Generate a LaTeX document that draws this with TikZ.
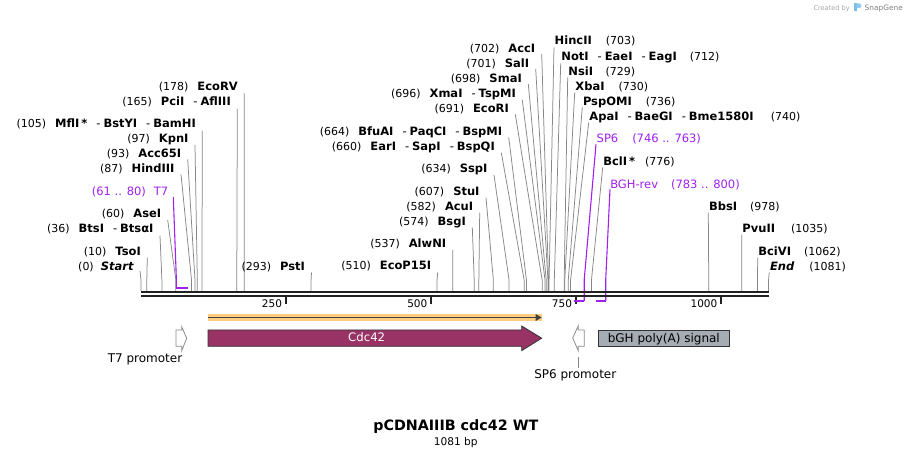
\documentclass[tikz,border=0pt]{standalone}
\usepackage{fontspec}
\setmainfont{DejaVu Sans}[ItalicFont={DejaVu Sans Oblique},BoldFont={DejaVu Sans Bold},BoldItalicFont={DejaVu Sans Bold Oblique}]
\usetikzlibrary{arrows.meta}
\definecolor{leadgray}{RGB}{135,135,135}
\definecolor{primerpurple}{RGB}{160,32,240}
\definecolor{cdccol}{RGB}{153,51,102}
\definecolor{polyAcol}{RGB}{166,172,179}
\definecolor{orfglow}{RGB}{253,205,128}
\definecolor{bbcol}{RGB}{34,34,34}
\definecolor{promogray}{RGB}{140,140,140}
\definecolor{logoblue}{RGB}{120,190,235}

\newcommand{\numlab}[1]{{\fontsize{11}{13}\selectfont #1}}
\newcommand{\enzlab}[1]{{\fontsize{11.5}{13}\selectfont\bfseries #1}}
\newcommand{\sepd}{\hspace{9pt}{\mdseries -}\hspace{3pt}}
% left label: id, bp, line x, line top y, baseline y, content
\newcommand{\lsite}[6]{%
  \node[lab, anchor=base east] (#1) at ({#3-6.5},{#5}) {#6};
  \coordinate (#1-top) at (#3,#4);
  \coordinate (#1-bend) at ({141+#2*0.5805},280);
  \coordinate (#1-end) at ({141+#2*0.5805},291);
  \draw[leader] (#1-top) -- (#1-bend) -- (#1-end);
}
\newcommand{\rsite}[6]{%
  \node[lab, anchor=base west] (#1) at ({#3+0.7},{#5}) {#6};
  \coordinate (#1-top) at (#3,#4);
  \coordinate (#1-bend) at ({141+#2*0.5805},280);
  \coordinate (#1-end) at ({141+#2*0.5805},291);
  \draw[leader] (#1-top) -- (#1-bend) -- (#1-end);
}

\begin{document}
\begin{tikzpicture}[x=1pt,y=-1pt,
  lab/.style={inner sep=0pt, outer sep=0pt, text=black},
  plab/.style={inner sep=0pt, outer sep=0pt, text=primerpurple, font=\fontsize{11.5}{13}\selectfont},
  leader/.style={draw=leadgray, line width=0.75pt},
  primerline/.style={draw=primerpurple, line width=1.1pt},
  primerbar/.style={draw=primerpurple, line width=2.2pt},
  backbone/.style={draw=bbcol, line width=2.4pt},
  tickmark/.style={draw=bbcol, line width=1.6pt},
  ticklab/.style={inner sep=0pt, font=\fontsize{10.5}{12}\selectfont, anchor=base east},
  promo/.style={draw=promogray, fill=white, line width=0.8pt},
  featlab/.style={inner sep=0pt, font=\fontsize{12}{14}\selectfont}
]
\useasboundingbox (0,0) rectangle (911,457);
\fill[white] (0,0) rectangle (911,457);

% ---------- left-side sites ----------
\lsite{start}{0}{140}{271}{270.3}{\numlab{(0)}\hspace{7pt}\enzlab{\itshape Start}}
\lsite{tso}{10}{147.3}{257.7}{255.7}{\numlab{(10)}\hspace{9pt}\enzlab{TsoI}}
\lsite{bts}{36}{160}{235.7}{232.7}{\numlab{(36)}\hspace{9pt}\enzlab{BtsI\sepd BtsαI}}
\lsite{ase}{60}{167.7}{220}{218}{\numlab{(60)}\hspace{9pt}\enzlab{AseI}}
\lsite{hind}{87}{181}{174.3}{172.3}{\numlab{(87)}\hspace{9pt}\enzlab{HindIII}}
\lsite{accsf}{93}{187.7}{159.3}{157.3}{\numlab{(93)}\hspace{9pt}\enzlab{Acc65I}}
\lsite{kpn}{97}{195}{145}{142.7}{\numlab{(97)}\hspace{9pt}\enzlab{KpnI}}
\lsite{mfl}{105}{202.3}{131}{127.7}{\numlab{(105)}\hspace{9pt}\enzlab{MflI\,*\sepd BstYI\sepd BamHI}}
\lsite{pci}{165}{237.3}{109}{106}{\numlab{(165)}\hspace{9pt}\enzlab{PciI\sepd AflIII}}
\lsite{ecorv}{178}{244.3}{93.3}{90.7}{\numlab{(178)}\hspace{9pt}\enzlab{EcoRV}}
\lsite{pst}{293}{311.5}{272.5}{270.3}{\numlab{(293)}\hspace{9pt}\enzlab{PstI}}
\lsite{ecop}{510}{437.7}{272.3}{270}{\numlab{(510)}\hspace{9pt}\enzlab{EcoP15I}}
\lsite{alwn}{537}{452.7}{250}{247.7}{\numlab{(537)}\hspace{9pt}\enzlab{AlwNI}}
\lsite{bsg}{574}{472.3}{227.3}{225.7}{\numlab{(574)}\hspace{9pt}\enzlab{BsgI}}
\lsite{acu}{582}{479.7}{212.7}{210.7}{\numlab{(582)}\hspace{9pt}\enzlab{AcuI}}
\lsite{stu}{607}{486}{197.7}{195.7}{\numlab{(607)}\hspace{9pt}\enzlab{StuI}}
\lsite{ssp}{634}{494}{175}{172.7}{\numlab{(634)}\hspace{9pt}\enzlab{SspI}}
\lsite{ear}{660}{501.3}{152.7}{150.7}{\numlab{(660)}\hspace{9pt}\enzlab{EarI\sepd SapI\sepd BspQI}}
\lsite{bfua}{664}{508.7}{137.3}{135.7}{\numlab{(664)}\hspace{9pt}\enzlab{BfuAI\sepd PaqCI\sepd BspMI}}
\lsite{ecori}{691}{515.3}{114.3}{112.7}{\numlab{(691)}\hspace{9pt}\enzlab{EcoRI}}
\lsite{xma}{696}{522.3}{100}{97.7}{\numlab{(696)}\hspace{9pt}\enzlab{XmaI\sepd TspMI}}
\lsite{sma}{698}{528.3}{84}{82.7}{\numlab{(698)}\hspace{9pt}\enzlab{SmaI}}
\lsite{sal}{701}{535.7}{69}{67.7}{\numlab{(701)}\hspace{9pt}\enzlab{SalI}}
\lsite{acc}{702}{541.7}{54}{52.7}{\numlab{(702)}\hspace{9pt}\enzlab{AccI}}

% ---------- right-side sites ----------
\rsite{hinc}{703}{554}{47.3}{45}{\enzlab{HincII}\hspace{14pt}\numlab{(703)}}
\rsite{noti}{712}{560.7}{63.3}{60.7}{\enzlab{NotI\sepd EaeI\sepd EagI}\hspace{13pt}\numlab{(712)}}
\rsite{nsi}{729}{567.7}{77.3}{75.7}{\enzlab{NsiI}\hspace{12.5pt}\numlab{(729)}}
\rsite{xba}{730}{574.7}{92.3}{90.7}{\enzlab{XbaI}\hspace{14pt}\numlab{(730)}}
\rsite{psp}{736}{582.3}{107.3}{105.3}{\enzlab{PspOMI}\hspace{14pt}\numlab{(736)}}
\rsite{apa}{740}{588.7}{122.7}{120.3}{\enzlab{ApaI\sepd BaeGI\sepd Bme1580I}\hspace{17pt}\numlab{(740)}}
\rsite{bcl}{776}{602.7}{167.3}{166}{\enzlab{BclI\,*}\hspace{10pt}\numlab{(776)}}
\rsite{bbs}{978}{708.3}{212.7}{211}{\enzlab{BbsI}\hspace{13pt}\numlab{(978)}}
\rsite{pvu}{1035}{741.7}{235}{233}{\enzlab{PvuII}\hspace{16pt}\numlab{(1035)}}
\rsite{bci}{1062}{757.7}{257.7}{256}{\enzlab{BciVI}\hspace{13pt}\numlab{(1062)}}
\rsite{endp}{1081}{769.3}{272.3}{270.7}{\enzlab{\itshape End}\hspace{15pt}\numlab{(1081)}}

% ---------- primers ----------
\node[plab, anchor=base east] (T7p) at (168.3,196) {(61 .. 80)\hspace{8pt}T7};
\coordinate (T7p-top) at (173.3,197);
\coordinate (T7p-bend) at (176.4,280);
\coordinate (T7p-s) at (176.4,288);
\coordinate (T7p-e) at (187.5,288);
\draw[primerline] (T7p-top) -- (T7p-bend) -- (T7p-s);
\draw[primerbar] (T7p-s) -- (T7p-e);

\node[plab, anchor=base west] (SP6p) at (596.7,142.7) {SP6\hspace{14pt}(746 .. 763)};
\coordinate (SP6p-top) at (596,144.3);
\coordinate (SP6p-bend) at (584.2,280);
\coordinate (SP6p-s) at (584.2,300.8);
\coordinate (SP6p-e) at (574.4,300.8);
\draw[primerline] (SP6p-top) -- (SP6p-bend) -- (SP6p-s);

\node[plab, anchor=base west] (BGHp) at (610.3,188.3) {BGH-rev\hspace{13pt}(783 .. 800)};
\coordinate (BGHp-top) at (610,189.3);
\coordinate (BGHp-bend) at (605.7,280);
\coordinate (BGHp-s) at (605.7,300.8);
\coordinate (BGHp-e) at (595.9,300.8);
\draw[primerline] (BGHp-top) -- (BGHp-bend) -- (BGHp-s);

% ---------- backbone ----------
\coordinate (bbL1) at (141,292.2);
\coordinate (bbR1) at (769.3,292.2);
\coordinate (bbL2) at (141,296.3);
\coordinate (bbR2) at (769.3,296.3);
\draw[backbone] (bbL1) -- (bbR1);
\draw[backbone] (bbL2) -- (bbR2);

% ticks
\foreach \tx/\tl in {285.7/250, 431/500, 575.7/750, 721/1000}{
  \draw[tickmark] (\tx,297.5) -- (\tx,304);
  \node[ticklab] at ({\tx-3.5},307.5) {\tl};
}
% reverse primer bars (over tick)
\draw[primerbar] (SP6p-s) -- (SP6p-e);
\draw[primerbar] (BGHp-s) -- (BGHp-e);

% ---------- ORF arrow ----------
\coordinate (orfS) at (207.7,317.5);
\coordinate (orfE) at (541.7,317.5);
\draw[draw=orfglow, line width=6.4pt] (orfS) -- (orfE);
\draw[draw=black!75, line width=1.6pt, -{Triangle[length=6pt,width=6.5pt]}] (orfS) -- (orfE);

% ---------- features ----------
\draw[draw=black!80, fill=cdccol, line width=0.8pt]
  (208,330) -- (521.7,330) -- (521.7,326) -- (541.7,338.2) -- (521.7,350.6) -- (521.7,346.3) -- (208,346.3) -- cycle;
\node[featlab, text=white, anchor=base, font=\fontsize{11.7}{14}\selectfont] (cdc) at (366.7,341.7) {Cdc42};

\draw[promo] (176,330) -- (181.7,330) -- (181.7,326.7) -- (186.7,338.3) -- (181.7,350.7) -- (181.7,346.3) -- (176,346.3) -- cycle;
\node[featlab, anchor=base] (t7prom) at (145,362.7) {T7 promoter};

\draw[promo] (584.3,330) -- (578.3,330) -- (578.3,325.7) -- (572.7,338) -- (578.3,350.7) -- (578.3,346.3) -- (584.3,346.3) -- cycle;
\coordinate (sp6a) at (578.3,356.7);
\node[featlab, anchor=base] (sp6prom) at (575.3,378.7) {SP6 promoter};
\coordinate (sp6b) at (578.3,368.3);
\draw[leader] (sp6a) -- (sp6b);

\draw[draw=black!80, fill=polyAcol, line width=0.8pt] (598.3,330.3) rectangle (729.3,346.3);
\node[featlab, anchor=base] (polya) at (663.8,342.2) {bGH poly(A) signal};

% ---------- title ----------
\node[inner sep=0pt, anchor=base, font=\fontsize{14.3}{17}\selectfont\bfseries] (title) at (455.8,430.7) {pCDNAIIIB cdc42 WT};
\node[inner sep=0pt, anchor=base, font=\fontsize{10.6}{12}\selectfont] (size) at (455.8,445) {1081 bp};

% ---------- watermark ----------
\node[inner sep=0pt, anchor=base west, font=\fontsize{6.6}{8}\selectfont, text=black!35] (cby) at (813.3,10.3) {Created by};
\fill[logoblue] (854,3.5) rectangle (856.6,11.2);
\fill[logoblue!80] (856.6,3.5) -- (859.5,3.5) .. controls (862,3.5) and (862,8) .. (859.5,8) -- (856.6,8) -- cycle;
\node[inner sep=0pt, anchor=base west, font=\fontsize{7.4}{9}\selectfont, text=black!50] (sgene) at (864.5,10.5) {SnapGene};
\end{tikzpicture}
\end{document}
